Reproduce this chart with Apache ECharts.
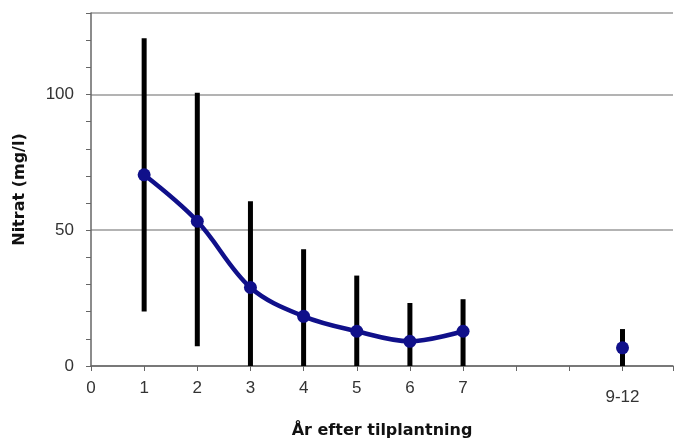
<!DOCTYPE html>
<html>
<head>
<meta charset="utf-8">
<script src="https://cdn.jsdelivr.net/npm/echarts@6/dist/echarts.min.js"></script>
<style>html,body{margin:0;padding:0;background:#fff;}#c{width:676px;height:444px;}</style>
</head>
<body>
<div id="c"></div>
<script>
// Data
const years = [1, 2, 3, 4, 5, 6, 7];
const means = [70.4, 53.3, 28.9, 18.3, 12.8, 9.1, 12.8];
const highs = [120.7, 100.6, 60.7, 43, 33.3, 23.2, 24.6];
const lows = [20.1, 7.3, 0, 0, 0, 0, 0];
const lateX = [10];
const lateMean = [6.7];
const lateHigh = [13.6];
const lateLow = [0];
const xTickLabels = ['0', '1', '2', '3', '4', '5', '6', '7', '', '', '9-12', ''];
const yTickLabels = [0, 50, 100];

const errData = years.map((x, i) => [x, lows[i], highs[i]])
  .concat(lateX.map((x, i) => [x, lateLow[i], lateHigh[i]]));

const chart = echarts.init(document.getElementById('c'), null, {renderer: 'canvas'});
chart.setOption({
  animation: false,
  backgroundColor: '#fff',
  grid: {left: 91, right: 0, top: 13, bottom: 76},
  xAxis: {
    type: 'value', min: 0, max: 10.95, interval: 1,
    name: 'År efter tilplantning', nameLocation: 'middle', nameGap: 57,
    nameTextStyle: {fontFamily: 'DejaVu Sans', fontWeight: 'bold', fontSize: 16, color: '#111'},
    axisLine: {show: true, lineStyle: {color: '#666', width: 1.5}},
    axisTick: {show: true, length: 5, lineStyle: {color: '#666'}},
    axisLabel: {
      margin: 14, fontFamily: 'Liberation Sans', fontSize: 17, color: '#333',
      showMaxLabel: true, showMinLabel: true,
      formatter: v => {
        const t = xTickLabels[Math.round(v)] || '';
        return t.indexOf('-') >= 0 ? '{low|' + t + '}' : t;
      },
      rich: {low: {fontFamily: 'Liberation Sans', fontSize: 17, color: '#333', padding: [9, 0, 0, 0]}}
    },
    splitLine: {show: false}
  },
  yAxis: [{
    type: 'value', min: 0, max: 130, interval: 50,
    name: 'Nitrat (mg/l)', nameLocation: 'middle', nameGap: 63, nameRotate: 90,
    nameTextStyle: {fontFamily: 'DejaVu Sans', fontWeight: 'bold', fontSize: 16, color: '#111'},
    axisLine: {show: true, lineStyle: {color: '#666', width: 1.5}},
    axisTick: {show: true, length: 5, lineStyle: {color: '#666'}},
    axisLabel: {
      margin: 17, fontFamily: 'Liberation Sans', fontSize: 17, color: '#333',
      formatter: v => yTickLabels.indexOf(v) >= 0 ? String(v) : ''
    },
    splitLine: {show: true, lineStyle: {color: '#9a9a9a', width: 1.5}}
  }, {
    type: 'value', min: 0, max: 130, interval: 10, position: 'left',
    axisLine: {show: false},
    axisTick: {show: true, length: 5, lineStyle: {color: '#666'}},
    axisLabel: {show: false},
    splitLine: {show: false}
  }],
  series: [{
    type: 'custom',
    data: errData,
    z: 2,
    renderItem: (params, api) => {
      const x = api.value(0);
      const p1 = api.coord([x, api.value(1)]);
      const p2 = api.coord([x, api.value(2)]);
      return {
        type: 'line',
        shape: {x1: p1[0], y1: p1[1], x2: p2[0], y2: p2[1]},
        style: {stroke: '#000', lineWidth: 5}
      };
    }
  }, {
    type: 'line',
    data: years.map((x, i) => [x, means[i]]),
    smooth: 0.35,
    z: 3,
    symbol: 'circle', symbolSize: 13,
    lineStyle: {color: '#10108a', width: 4.5},
    itemStyle: {color: '#10108a', opacity: 1}
  }, {
    type: 'scatter',
    data: lateX.map((x, i) => [x, lateMean[i]]),
    z: 3,
    symbol: 'circle', symbolSize: 13,
    itemStyle: {color: '#10108a', opacity: 1}
  }]
});
</script>
</body>
</html>
